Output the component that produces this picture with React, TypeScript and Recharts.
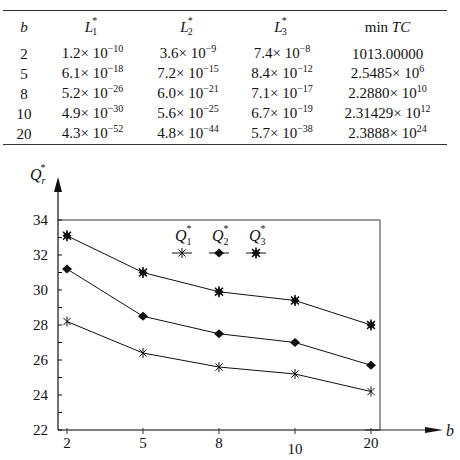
import React from 'react';
import {
  LineChart,
  Line,
  XAxis,
  YAxis,
  CartesianGrid,
  Legend
} from 'recharts';

// table data
const tableB = [2, 5, 8, 10, 20];
const l1 = [[1.2, -10], [6.1, -18], [5.2, -26], [4.9, -30], [4.3, -52]];
const l2 = [[3.6, -9], [7.2, -15], [6.0, -21], [5.6, -25], [4.8, -44]];
const l3 = [[7.4, -8], [8.4, -12], [7.1, -17], [6.7, -19], [5.7, -38]];
const minTcMantissa = ['1013.00000', '2.5485', '2.2880', '2.31429', '2.3888'];
const minTcExp: (number | null)[] = [null, 6, 10, 12, 24];

// chart data
const bValues = ['2', '5', '8', '10', '20'];
const q1 = [28.2, 26.4, 25.6, 25.2, 24.2];
const q2 = [31.2, 28.5, 27.5, 27.0, 25.7];
const q3 = [33.1, 31.0, 29.9, 29.4, 28.0];
const yTicks = [22, 23, 24, 25, 26, 27, 28, 29, 30, 31, 32, 33, 34];

const chartData = bValues.map((b, i) => ({ b, q1: q1[i], q2: q2[i], q3: q3[i] }));

const FONT = "'Liberation Serif', 'Times New Roman', Tinos, 'Noto Serif', 'DejaVu Serif', serif";
const W = 460;
const H = 460;
const PLOT_LEFT = 58;
const PLOT_TOP = 220;
const PLOT_RIGHT = 380;
const PLOT_BOTTOM = 430;
const Y_AXIS_W = 40;
const X_AXIS_H = 30;

const sup = (txt: string | number) => (
  <span style={{ fontSize: 10, position: 'relative', top: -6 }}>{txt}</span>
);

const sci = (m: number, e: number) => (
  <span>{m.toFixed(1)}×&nbsp;10{sup(String(e).replace('-', '−'))}</span>
);

// L with stacked * and subscript
const LHead = ({ n }: { n: number }) => (
  <span>
    <i>L</i>
    <span style={{ display: 'inline-block', position: 'relative', width: 7 }}>
      <span style={{ position: 'absolute', left: -1, top: -17, fontSize: 10 }}>*</span>
      <span style={{ position: 'absolute', left: -1, top: -6, fontSize: 10 }}>{n}</span>
    </span>
  </span>
);

const colW = [42, 95, 96, 92, 119];

const Table = () => (
  <table
    style={{
      position: 'absolute',
      top: 10,
      left: 3,
      width: 444,
      borderCollapse: 'collapse',
      borderTop: '1.5px solid #333',
      borderBottom: '1.5px solid #333',
      fontFamily: FONT,
      fontSize: 15,
      color: '#111',
      tableLayout: 'fixed'
    }}
  >
    <colgroup>
      {colW.map((w, i) => <col key={i} style={{ width: w }} />)}
    </colgroup>
    <tbody>
      <tr style={{ height: 33 }}>
        <td style={{ textAlign: 'center', padding: 0 }}><i>b</i></td>
        <td style={{ textAlign: 'center', padding: 0 }}><LHead n={1} /></td>
        <td style={{ textAlign: 'center', padding: 0 }}><LHead n={2} /></td>
        <td style={{ textAlign: 'center', padding: 0 }}><LHead n={3} /></td>
        <td style={{ textAlign: 'center', padding: 0 }}>min <i>TC</i></td>
      </tr>
      {tableB.map((b, i) => (
        <tr key={b} style={{ height: 18.5, lineHeight: '18px' }}>
          <td style={{ textAlign: 'center', padding: 0 }}>{b}</td>
          <td style={{ textAlign: 'center', padding: 0 }}>{sci(l1[i][0], l1[i][1])}</td>
          <td style={{ textAlign: 'center', padding: 0 }}>{sci(l2[i][0], l2[i][1])}</td>
          <td style={{ textAlign: 'center', padding: 0 }}>{sci(l3[i][0], l3[i][1])}</td>
          <td style={{ textAlign: 'center', padding: 0 }}>
            {minTcExp[i] === null ? (
              minTcMantissa[i]
            ) : (
              <span>{minTcMantissa[i]}×&nbsp;10{sup(minTcExp[i] as number)}</span>
            )}
          </td>
        </tr>
      ))}
    </tbody>
  </table>
);

// markers
const Star = ({ cx, cy, r = 5, sw = 1 }: any) => {
  const d = r * 0.72;
  return (
    <g stroke="#111" strokeWidth={sw}>
      <line x1={cx} y1={cy - r} x2={cx} y2={cy + r} />
      <line x1={cx - d} y1={cy - d} x2={cx + d} y2={cy + d} />
      <line x1={cx - d} y1={cy + d} x2={cx + d} y2={cy - d} />
    </g>
  );
};

const Diamond = ({ cx, cy, w = 5, h = 4.5 }: any) => (
  <polygon points={`${cx - w},${cy} ${cx},${cy - h} ${cx + w},${cy} ${cx},${cy + h}`} fill="#111" />
);

const StarDiamond = ({ cx, cy }: any) => (
  <g>
    <Diamond cx={cx} cy={cy} w={4.5} h={4} />
    <Star cx={cx} cy={cy} r={5.5} sw={1.6} />
  </g>
);

const markers: Record<string, any> = { q1: Star, q2: Diamond, q3: StarDiamond };

const makeDot = (key: string) => (props: any) => {
  const M = markers[key];
  if (props.cx == null || props.cy == null) return <g key={props.index} />;
  return <M key={props.index} cx={props.cx} cy={props.cy} />;
};

const YTick = ({ x, y, payload }: any) => {
  const v = payload.value;
  return (
    <g>
      <line x1={x} x2={x + 4} y1={y} y2={y} stroke="#111" />
      {v % 2 === 0 && (
        <text x={x - 10} y={y} dy={5} textAnchor="end" fontFamily={FONT} fontSize={15} fill="#111">
          {v}
        </text>
      )}
    </g>
  );
};

const XTick = ({ x, y, payload }: any) => {
  const lower = payload.value === '10';
  return (
    <g>
      <line x1={x} x2={x} y1={y - 2} y2={y + 4} stroke="#333" />
      <text x={x} y={y + (lower ? 24 : 18)} textAnchor="middle" fontFamily={FONT} fontSize={15} fill="#111">
        {payload.value}
      </text>
    </g>
  );
};

const QLabel = ({ x, y, sub }: { x: number; y: number; sub: string }) => (
  <text x={x} y={y} fontFamily={FONT} fill="#111">
    <tspan fontSize={16} fontStyle="italic">Q</tspan>
    <tspan fontSize={10} dy={4} fontStyle={sub === 'r' ? 'italic' : 'normal'}>{sub}</tspan>
    <tspan fontSize={10} dx={-5} dy={-13}>*</tspan>
  </text>
);

const legendItems = [
  { key: 'q1', sub: '1' },
  { key: 'q2', sub: '2' },
  { key: 'q3', sub: '3' }
];

const renderLegend = () => (
  <svg width={120} height={40}>
    {legendItems.map((it, i) => {
      const cx = 14 + i * 37;
      const M = markers[it.key];
      return (
        <g key={it.key}>
          <QLabel x={cx - 7} y={18} sub={it.sub} />
          <line x1={cx - 10} x2={cx + 10} y1={30} y2={30} stroke="#111" />
          <M cx={cx} cy={30} />
        </g>
      );
    })}
  </svg>
);

const Decorations = () => (
  <svg width={W} height={H} style={{ position: 'absolute', top: 0, left: 0, pointerEvents: 'none' }}>
    {/* y axis arrow */}
    <line x1={PLOT_LEFT} x2={PLOT_LEFT} y1={PLOT_TOP} y2={190} stroke="#111" strokeWidth={1.2} />
    <polygon points={`${PLOT_LEFT},177 ${PLOT_LEFT - 4},192 ${PLOT_LEFT + 4},192`} fill="#111" />
    <QLabel x={30} y={180} sub="r" />
    {/* x axis arrow */}
    <line x1={PLOT_RIGHT - 15} x2={428} y1={PLOT_BOTTOM} y2={PLOT_BOTTOM} stroke="#222" strokeWidth={1.2} />
    <polygon points={`443,${PLOT_BOTTOM} 425,${PLOT_BOTTOM - 3} 425,${PLOT_BOTTOM + 3}`} fill="#111" />
    <text x={446} y={PLOT_BOTTOM + 6} fontFamily={FONT} fontSize={16} fontStyle="italic" fill="#111">b</text>
  </svg>
);

export default function App() {
  return (
    <div style={{ position: 'absolute', top: 0, left: 0, width: W, height: H, background: '#fff', fontFamily: FONT }}>
      <LineChart
        width={W}
        height={H}
        data={chartData}
        margin={{
          top: PLOT_TOP,
          right: W - PLOT_RIGHT,
          bottom: H - PLOT_BOTTOM - X_AXIS_H,
          left: PLOT_LEFT - Y_AXIS_W
        }}
      >
        {/* plot frame: top and right edges */}
        <CartesianGrid
          horizontalPoints={[PLOT_TOP]}
          verticalPoints={[PLOT_RIGHT]}
          stroke="#777"
          strokeWidth={1.5}
        />
        <XAxis
          dataKey="b"
          padding={{ left: 9, right: 9 }}
          interval={0}
          height={X_AXIS_H}
          tickSize={0}
          tickMargin={0}
          tick={<XTick />}
          axisLine={{ stroke: '#555', strokeWidth: 1.5 }}
        />
        <YAxis
          type="number"
          domain={[22, 34]}
          ticks={yTicks}
          interval={0}
          width={Y_AXIS_W}
          tickSize={0}
          tickMargin={0}
          tick={<YTick />}
          axisLine={{ stroke: '#111', strokeWidth: 1.2 }}
        />
        <Legend
          layout="horizontal"
          verticalAlign="middle"
          align="center"
          content={renderLegend}
          wrapperStyle={{ top: 223, left: 168, width: 120, height: 40 }}
        />
        <Line dataKey="q1" stroke="#111" strokeWidth={1} dot={makeDot('q1')} isAnimationActive={false} />
        <Line dataKey="q2" stroke="#111" strokeWidth={1} dot={makeDot('q2')} isAnimationActive={false} />
        <Line dataKey="q3" stroke="#111" strokeWidth={1} dot={makeDot('q3')} isAnimationActive={false} />
      </LineChart>
      <Table />
      <Decorations />
    </div>
  );
}
